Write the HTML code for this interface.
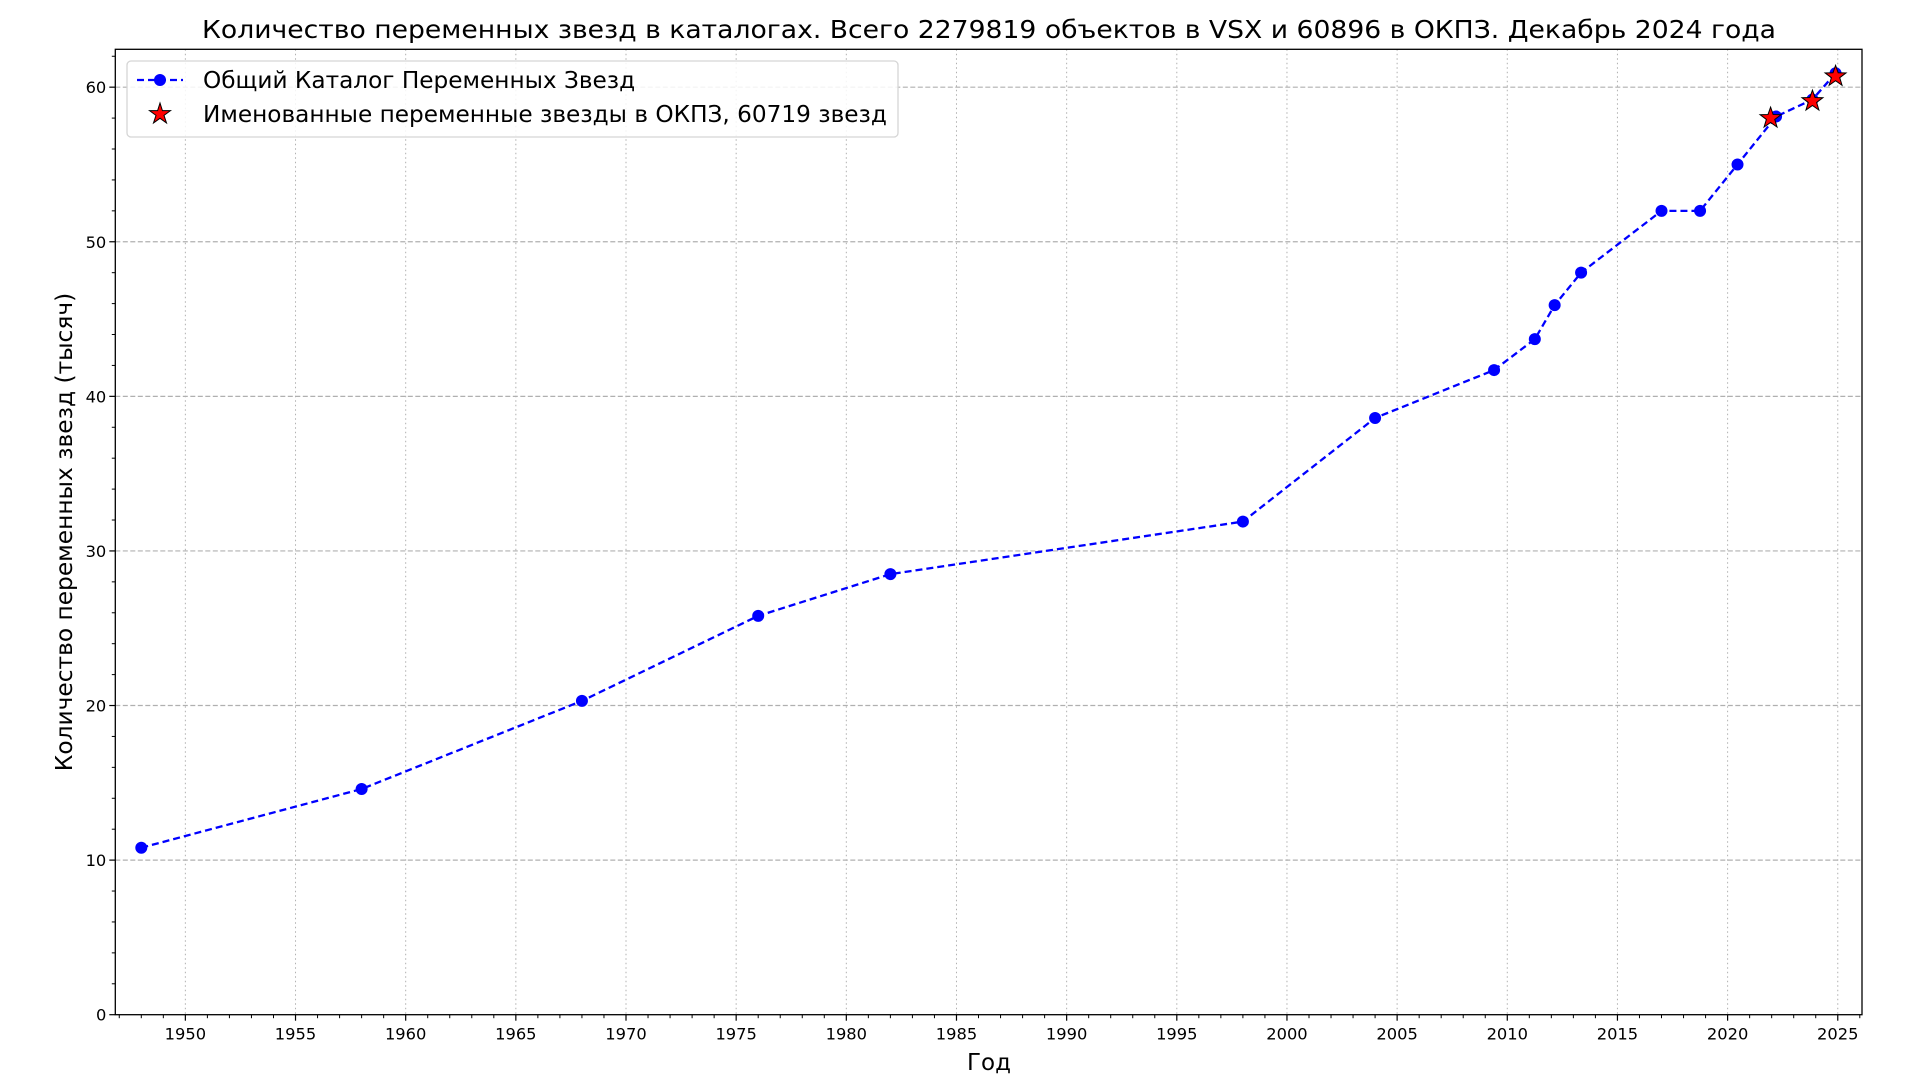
<!DOCTYPE html>
<html><head><meta charset="utf-8">
<style>
html,body{margin:0;padding:0;background:#fff;}
svg{display:block;font-family:"DejaVu Sans","Liberation Sans",sans-serif;}
</style></head>
<body>
<svg id="chart" width="1920" height="1080" viewBox="0 0 1920 1080" xmlns="http://www.w3.org/2000/svg">
<rect x="0" y="0" width="1920" height="1080" fill="#fff"/>
<text x="989" y="38" text-anchor="middle" font-size="25" textLength="1574" lengthAdjust="spacingAndGlyphs">Количество переменных звезд в каталогах. Всего 2279819 объектов в VSX и 60896 в ОКПЗ. Декабрь 2024 года</text>
<g id="grid"></g>
<g id="series"></g>
<g id="axes"></g>
<text transform="translate(72,532) rotate(-90)" text-anchor="middle" font-size="23.3">Количество переменных звезд (тысяч)</text>
<text x="989" y="1070" text-anchor="middle" font-size="23">Год</text>
<g>
<rect x="127" y="61" width="771" height="76" rx="4" fill="#fff" fill-opacity="0.85" stroke="#d5d5d5" stroke-width="1.3"/>
<line x1="137" y1="80" x2="183" y2="80" stroke="#0000ff" stroke-width="2.3" stroke-dasharray="7,4"/>
<circle cx="160" cy="80" r="6" fill="#0000ff"/>
<text x="203" y="88" font-size="23.2">Общий Каталог Переменных Звезд</text>
<polygon points="160,103 162.4,110.6 170.5,110.6 164,115.4 166.5,123 160,118.3 153.5,123 156,115.4 149.5,110.6 157.6,110.6" fill="#ff0000" stroke="#000" stroke-width="1"/>
<text x="203" y="122" font-size="23.2">Именованные переменные звезды в ОКПЗ, 60719 звезд</text>
</g>
</svg>
<script>
const years = [1948,1958,1968,1976,1982,1998,2004,2009.4,2011.25,2012.15,2013.35,2017.0,2018.75,2020.45,2022.2,2023.85,2024.9];
const counts = [10.8,14.6,20.3,25.8,28.5,31.9,38.6,41.7,43.7,45.9,48.0,52.0,52.0,55.0,58.1,59.2,60.9];
const starYears = [2021.95,2023.85,2024.9];
const starCounts = [58.0,59.1,60.7];
const xTicks = [1950,1955,1960,1965,1970,1975,1980,1985,1990,1995,2000,2005,2010,2015,2020,2025];
const yTicks = [0,10,20,30,40,50,60];

const L=115.3,R=1862,T=49.3,B=1014.7;
const xMin=1946.82,xMax=2026.1,yMin=0,yMax=62.45;
const sx=v=>L+(v-xMin)/(xMax-xMin)*(R-L);
const sy=v=>B-(v-yMin)/(yMax-yMin)*(B-T);
const NS="http://www.w3.org/2000/svg";
function mk(tag,attrs,parent){const e=document.createElementNS(NS,tag);for(const k in attrs)e.setAttribute(k,attrs[k]);parent.appendChild(e);return e;}
const grid=document.getElementById('grid'),axes=document.getElementById('axes'),series=document.getElementById('series');

xTicks.forEach(t=>{
  const x=sx(t);
  const g=mk('line',{x1:x,y1:T,x2:x,y2:B,stroke:'#b0b0b0','stroke-width':1,'stroke-dasharray':'1.5,3'},grid);
  
  
  const tk=mk('line',{x1:x,y1:B,x2:x,y2:B+6,stroke:'#000','stroke-width':1.2},axes);
  
  
  const lb=mk('text',{x:x,y:B+25,'text-anchor':'middle','font-size':16.3},axes);
  lb.textContent=t;
  
  
});
for(let y=Math.ceil(xMin);y<=xMax;y++){
  if(y%5===0)continue;
  const m=mk('line',{x1:sx(y),y1:B,x2:sx(y),y2:B+3.5,stroke:'#000','stroke-width':1},axes);
  
  
}
yTicks.forEach(t=>{
  const y=sy(t);
  if(t>0){
    const g=mk('line',{x1:L,y1:y,x2:R,y2:y,stroke:'#b0b0b0','stroke-width':1.2,'stroke-dasharray':'5,2.5'},grid);
    
    
  }
  const tk=mk('line',{x1:L-6,y1:y,x2:L,y2:y,stroke:'#000','stroke-width':1.2},axes);
  
  
  const lb=mk('text',{x:L-9,y:y+6,'text-anchor':'end','font-size':16.3},axes);
  lb.textContent=t;
  
  
});
for(let v=2;v<yMax;v+=2){
  if(v%10===0)continue;
  const m=mk('line',{x1:L-3.5,y1:sy(v),x2:L,y2:sy(v),stroke:'#000','stroke-width':1},axes);
  
  
}
const frame=mk('rect',{x:L,y:T,width:R-L,height:B-T,fill:'none',stroke:'#000','stroke-width':1.3},axes);



const pts=years.map((y,i)=>sx(y)+','+sy(counts[i])).join(' ');
const line=mk('polyline',{points:pts,fill:'none',stroke:'#0000ff','stroke-width':2.3,'stroke-dasharray':'7,4'},series);


years.forEach((y,i)=>{
  const c=mk('circle',{cx:sx(y),cy:sy(counts[i]),r:6,fill:'#0000ff'},series);
  
  
});
function starPts(cx,cy,r){const a=[];for(let k=0;k<10;k++){const rr=k%2?r*0.4:r;const ang=-Math.PI/2+k*Math.PI/5;a.push((cx+rr*Math.cos(ang)).toFixed(2)+','+(cy+rr*Math.sin(ang)).toFixed(2));}return a.join(' ');}
starYears.forEach((y,i)=>{
  const s=mk('polygon',{points:starPts(sx(y),sy(starCounts[i]),11),fill:'#ff0000',stroke:'#000','stroke-width':1},series);
  
  
});
</script>
</body></html>
